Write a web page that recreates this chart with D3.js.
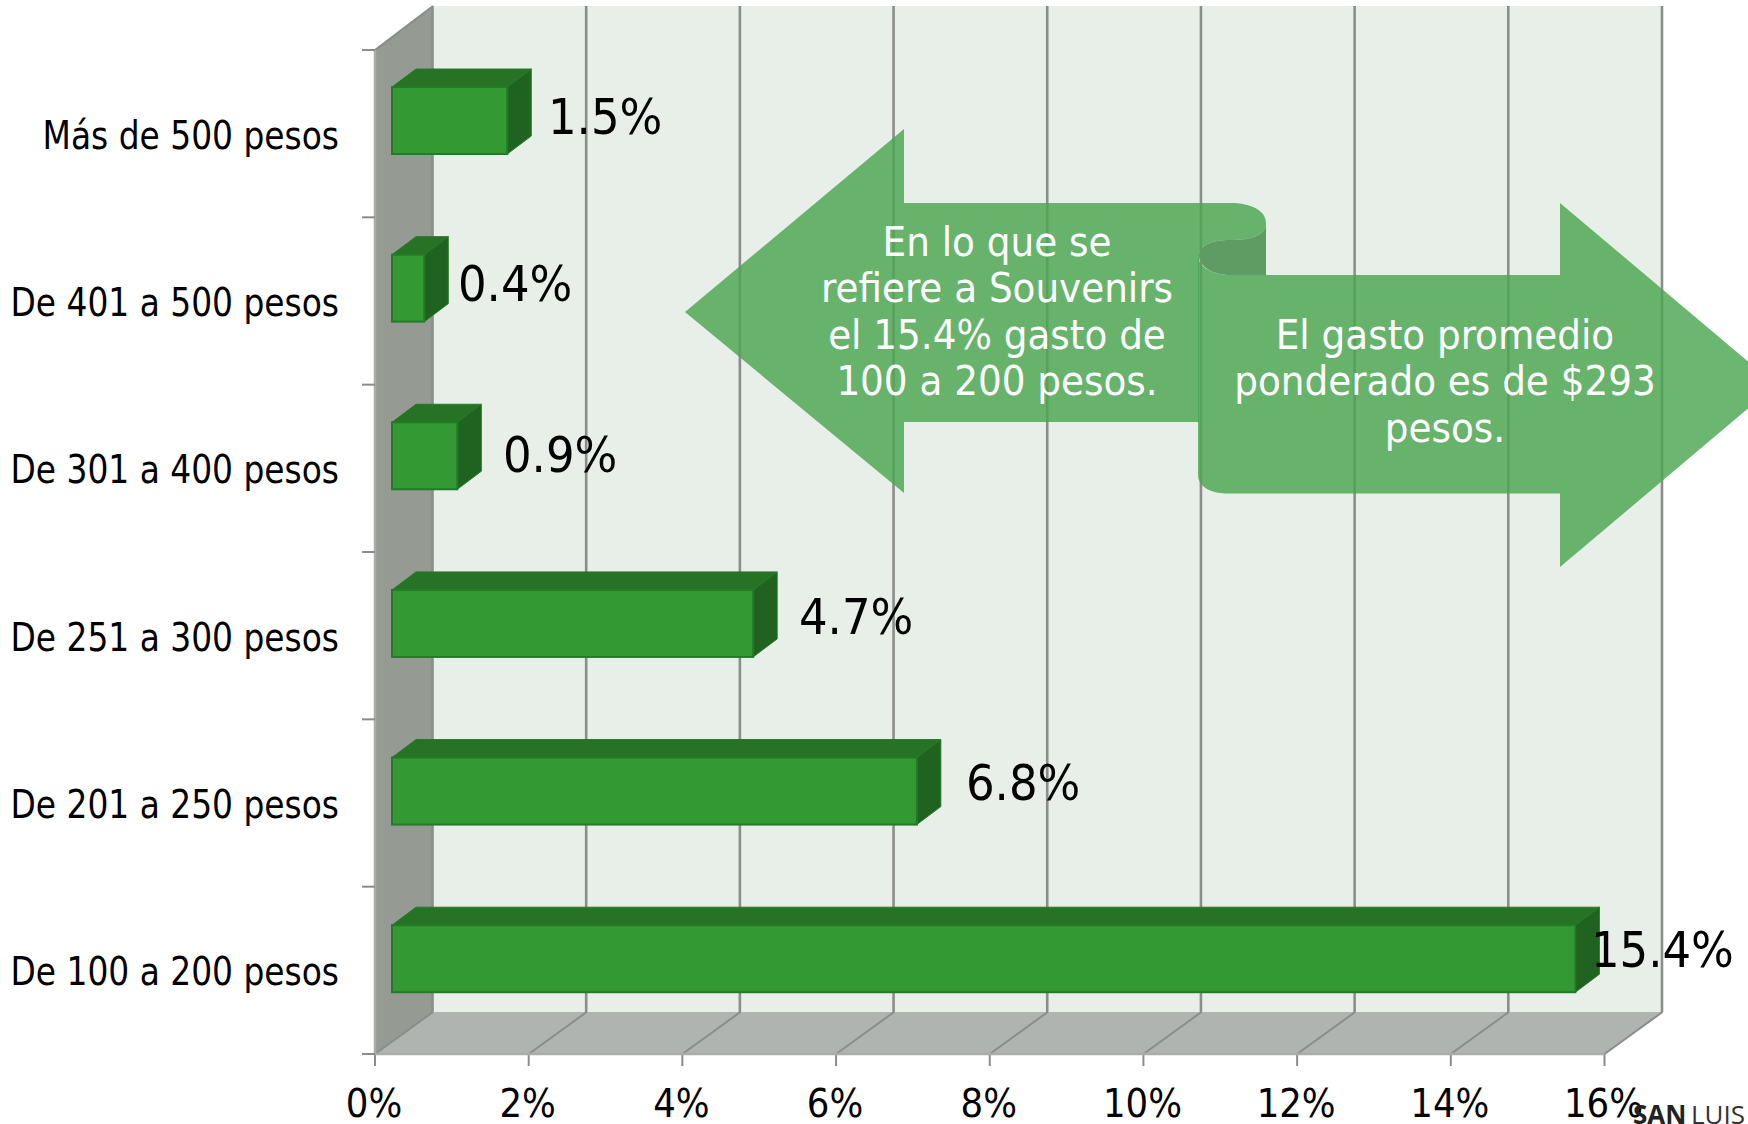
<!DOCTYPE html>
<html><head><meta charset="utf-8"><script src="https://cdnjs.cloudflare.com/ajax/libs/d3/7.8.5/d3.min.js"></script>
<style>html,body{margin:0;background:#fff;overflow:hidden}svg{display:block}text{font-family:"DejaVu Sans Condensed","DejaVu Sans",sans-serif}</style></head>
<body><svg id="c" width="1748" height="1124"></svg>
<script>
const categories=["Más de 500 pesos","De 401 a 500 pesos","De 301 a 400 pesos","De 251 a 300 pesos","De 201 a 250 pesos","De 100 a 200 pesos"];
const values=[1.5,0.42,0.85,4.7,6.83,15.4];
const labels=["1.5%","0.4%","0.9%","4.7%","6.8%","15.4%"];
const xTicks=[0,2,4,6,8,10,12,14,16];
const note1=["En lo que se","refiere a Souvenirs","el 15.4% gasto de","100 a 200 pesos."];
const note2=["El gasto promedio","ponderado es de $293","pesos."];
const svg=d3.select("#c");
const x=d3.scaleLinear().domain([0,16]).range([375,1604.5]);
const y=d3.scaleBand().domain(categories).range([50,1054]);
const yBar=d3.scalePoint().domain(categories).range([87,925.2]);
const dx=58,dy=-42;
const gridC="#8c8c8c";
const yTop=y.range()[0],yBot=y.range()[1];
const line=d3.line();
svg.append("rect").attr("x",x(0)+dx).attr("y",6).attr("width",x(16)-x(0)).attr("height",yBot+dy-6).attr("fill","#e7efe8");
svg.append("path").attr("d",line([[x(0),yTop],[x(0)+dx,6],[x(0)+dx,yBot+dy],[x(0),yBot]])).attr("fill","#959a93");
svg.append("path").attr("d",line([[x(0),yBot],[x(0)+dx,yBot+dy],[x(16)+dx,yBot+dy],[x(16),yBot]])).attr("fill","#b0b4b0");
xTicks.forEach(t=>{
 svg.append("path").attr("d",line([[x(t),yBot],[x(t)+dx,yBot+dy]])).attr("fill","none").attr("stroke",gridC).attr("stroke-width",2);
 svg.append("line").attr("x1",x(t)+dx-0.5).attr("x2",x(t)+dx-0.5).attr("y1",yBot+dy).attr("y2",6).attr("stroke",gridC).attr("stroke-width",2.6);
 svg.append("line").attr("x1",x(t)).attr("x2",x(t)).attr("y1",yBot).attr("y2",yBot+12).attr("stroke",gridC).attr("stroke-width",2);
 svg.append("text").attr("x",x(t)-1).attr("y",1117).attr("text-anchor","middle").attr("font-size",39.5).attr("fill","#000").text(t+"%");
});
svg.append("path").attr("d",line([[x(0),yBot],[x(16),yBot]])).attr("stroke","#a9aca9").attr("stroke-width",2.5);
svg.append("path").attr("d",line([[x(0),yTop],[x(0)+dx,6]])).attr("stroke",gridC).attr("stroke-width",2);
svg.append("path").attr("d",line([[x(0),yTop],[x(0),yBot]])).attr("stroke","#a9aca9").attr("stroke-width",2.5);
d3.range(categories.length+1).forEach(i=>{const yy=yTop+i*y.step();
 svg.append("line").attr("x1",362).attr("x2",375).attr("y1",yy).attr("y2",yy).attr("stroke",gridC).attr("stroke-width",2);});
const bo=17, bh=67, bdx=24, bdy=-18;
categories.forEach((c,i)=>{
 const x0=x(0)+bo, x1=x0+(x(values[i])-x(0));
 const y0=yBar(c), y1=y0+bh;
 const g=svg.append("g");
 g.append("path").attr("d",line([[x0,y0],[x0+bdx,y0+bdy],[x1+bdx,y0+bdy],[x1,y0]])+"Z").attr("fill","#267326").attr("stroke","#267a28").attr("stroke-width",1);
 g.append("path").attr("d",line([[x1,y0],[x1+bdx,y0+bdy],[x1+bdx,y1+bdy],[x1,y1]])+"Z").attr("fill","#20621f").attr("stroke","#267a28").attr("stroke-width",1);
 g.append("rect").attr("x",x0).attr("y",y0).attr("width",x1-x0).attr("height",bh).attr("fill","#339933").attr("stroke","#237a27").attr("stroke-width",2);
});
const lx=[548,458,503,799,966,1591], ly=[134,301,472,634,800,967];
labels.forEach((l,i)=>svg.append("text").attr("x",lx[i]).attr("y",ly[i]).attr("font-size",50).attr("fill","#000").text(l));
categories.forEach(c=>svg.append("text").attr("transform",`translate(339,${y(c)+y.step()/2+15}) scale(0.95,1)`).attr("text-anchor","end").attr("font-size",38.5).attr("fill","#000").text(c));
const fillA="#4ba651", op=0.82;
svg.append("path").attr("fill","#5f9c64").attr("d","M1266,223 C1266,236 1250,240 1230,240 C1212,240 1199,245 1199,256 C1199,266 1212,275 1230,275 L1266,275 Z");
svg.append("path").attr("fill",fillA).attr("opacity",op).attr("d","M685,312 L904,129 L904,203 L1230,203 C1252,203 1266,211 1266,223 C1266,236 1250,240 1230,240 C1212,240 1199,245 1199,256 L1199,422 L904,422 L904,493 Z");
svg.append("path").attr("fill",fillA).attr("opacity",op).attr("d","M1198,256 C1198,266 1212,275 1230,275 L1560,275 L1560,203 L1776,385 L1560,567 L1560,493.5 L1228,493.5 C1208,493.5 1198,485 1198,475 Z");
note1.forEach((t,i)=>svg.append("text").attr("x",997).attr("y",256+i*46.3).attr("text-anchor","middle").attr("font-size",41.5).attr("fill","#fff").text(t));
note2.forEach((t,i)=>svg.append("text").attr("x",1445).attr("y",349+i*46.3).attr("text-anchor","middle").attr("font-size",41.5).attr("fill","#fff").text(t));
svg.append("text").attr("x",1633).attr("y",1124).attr("font-size",26).attr("fill","#222").attr("style","font-family:'Open Sans';font-weight:700").text("SAN");
svg.append("text").attr("x",1691).attr("y",1124).attr("font-size",26).attr("fill","#333").attr("style","font-family:'Open Sans'").text("LUIS");
</script></body></html>
